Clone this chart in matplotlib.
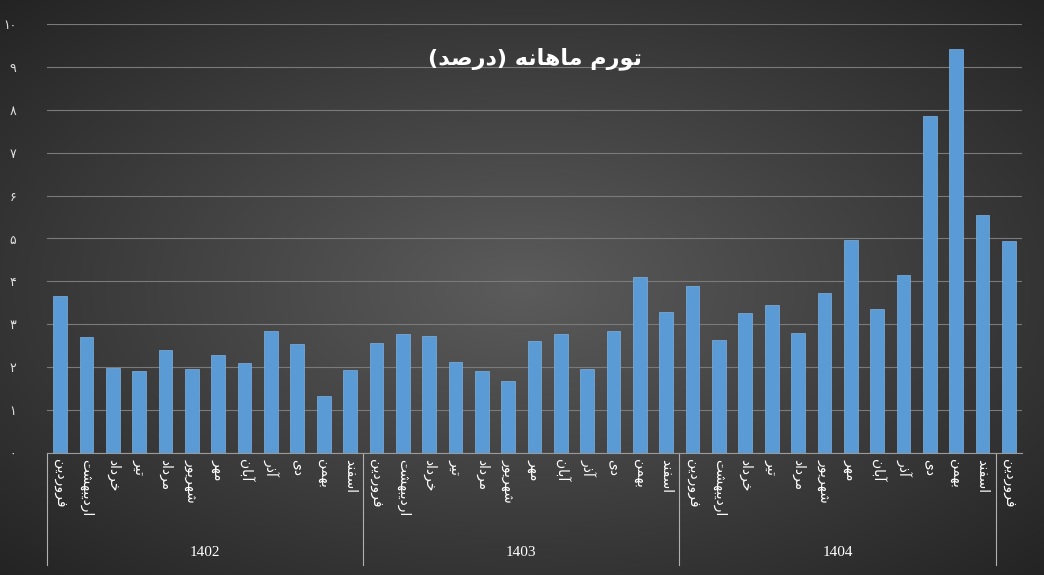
import numpy as np
import matplotlib
matplotlib.use("Agg")
import matplotlib.pyplot as plt

months = ["فروردین","اردیبهشت","خرداد","تیر","مرداد","شهریور","مهر","آبان","آذر","دی","بهمن","اسفند"]
years = ["1402","1403","1404"]
labels = months*3 + ["فروردین"]
values = [3.66,2.70,1.98,1.91,2.40,1.96,2.28,2.10,2.84,2.54,1.33,1.93,
          2.56,2.77,2.73,2.12,1.91,1.68,2.61,2.77,1.96,2.84,4.10,3.29,
          3.89,2.63,3.26,3.45,2.80,3.73,4.97,3.36,4.15,7.86,9.42,5.55,
          4.94]
title = "تورم ماهانه (درصد)"

FORMS = {  # isol, final, initial, medial
 'ا':(0xFE8D,0xFE8E,None,None),'آ':(0xFE81,0xFE82,None,None),
 'ب':(0xFE8F,0xFE90,0xFE91,0xFE92),'ت':(0xFE95,0xFE96,0xFE97,0xFE98),
 'خ':(0xFEA5,0xFEA6,0xFEA7,0xFEA8),'د':(0xFEA9,0xFEAA,None,None),
 'ذ':(0xFEAB,0xFEAC,None,None),'ر':(0xFEAD,0xFEAE,None,None),
 'ز':(0xFEAF,0xFEB0,None,None),'س':(0xFEB1,0xFEB2,0xFEB3,0xFEB4),
 'ش':(0xFEB5,0xFEB6,0xFEB7,0xFEB8),'ص':(0xFEB9,0xFEBA,0xFEBB,0xFEBC),
 'ف':(0xFED1,0xFED2,0xFED3,0xFED4),'م':(0xFEE1,0xFEE2,0xFEE3,0xFEE4),
 'ن':(0xFEE5,0xFEE6,0xFEE7,0xFEE8),'ه':(0xFEE9,0xFEEA,0xFEEB,0xFEEC),
 'و':(0xFEED,0xFEEE,None,None),'ی':(0xFBFC,0xFBFD,0xFBFE,0xFBFF),
}
def shape(s):
    out=[]
    for i,c in enumerate(s):
        if c not in FORMS:
            out.append(c); continue
        f=FORMS[c]
        prev = s[i-1] if i>0 else ''
        nxt = s[i+1] if i+1<len(s) else ''
        jp = prev in FORMS and FORMS[prev][2] is not None
        jn = nxt in FORMS and f[2] is not None
        if jp and jn: k=3
        elif jp: k=1
        elif jn: k=2
        else: k=0
        out.append(chr(f[k]))
    r=''.join(out)[::-1]
    return r.translate(str.maketrans('()',')('))

fa = str.maketrans('0123456789','۰۱۲۳۴۵۶۷۸۹')
plt.rcParams['font.family'] = ['DejaVu Sans']

W,H=1044,575
fig = plt.figure(figsize=(W/100,H/100), dpi=100)
bg = fig.add_axes([0,0,1,1]); bg.axis('off')
yy,xx = np.mgrid[-1:1:300j,-1:1:500j]
r = np.sqrt(xx**2+yy**2)/1.41
g = 0.36 - 0.22*r
bg.imshow(np.dstack([g,g,g]), extent=[0,1,0,1], aspect='auto', zorder=0)
bg.set_xlim(0,1); bg.set_ylim(0,1)

L,R,B,T = 47/W, 1022/W, 1-453/H, 1-24/H
ax = fig.add_axes([L,B,R-L,T-B]); ax.patch.set_alpha(0)
x = np.arange(len(values))
ax.bar(x, values, width=0.52, color='#5B9BD5', edgecolor='#7fb2e3', linewidth=0.5, zorder=3)
ax.set_xlim(-0.5, len(values)-0.5); ax.set_ylim(0,10)
ax.set_yticks(range(11))
ax.set_yticklabels([str(i).translate(fa) for i in range(11)], color='#e0e0e0', fontsize=9)
ax.yaxis.grid(True, color='#7a7a7a', linewidth=0.8); ax.set_axisbelow(True)
ax.tick_params(axis='y', length=0, pad=22)
ax.set_xticks(x)
ax.set_xticklabels([shape(l) for l in labels], rotation=-90, color='white', fontsize=10, va='top')
ax.tick_params(axis='x', length=0, pad=4)
for s in ['top','right','left']: ax.spines[s].set_visible(False)
ax.spines['bottom'].set_color('#9a9a9a')
ax.text(0.5, 0.92, shape(title), transform=ax.transAxes, ha='center', va='center', color='white', fontsize=16, fontweight='bold')

trans = matplotlib.transforms.blended_transform_factory(ax.transData, fig.transFigure)
for b in [-0.5, 11.5, 23.5, 35.5]:
    ax.plot([b,b],[B,1-565/H], transform=trans, color='#b0b0b0', lw=0.8, clip_on=False)
for i,yv in enumerate(years):
    ax.text(12*i+5.5, 1-552/H, yv, transform=trans, ha='center', va='center', color='white', fontsize=11, family='Liberation Serif')

fig.savefig('out.png', dpi=100)
